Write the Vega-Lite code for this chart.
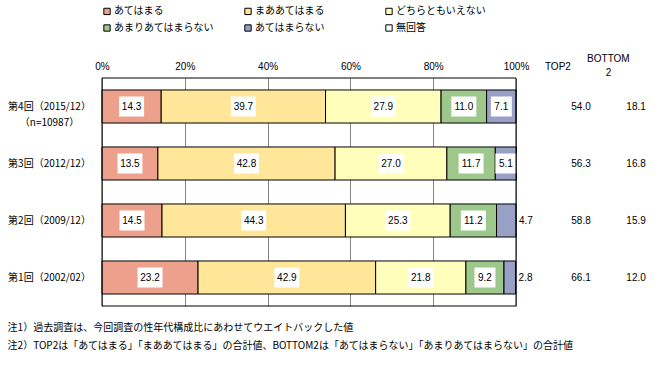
{
  "$schema": "https://vega.github.io/schema/vega-lite/v6.json",
  "width": 538.2,
  "height": 228,
  "autosize": "none",
  "padding": {"left": 102, "top": 78, "right": 15.8, "bottom": 59},
  "background": "white",
  "config": {"view": {"stroke": null}, "font": "Noto Sans CJK JP"},
  "title": {
    "text": ["注1）過去調査は、今回調査の性年代構成比にあわせてウエイトバックした値", "注2）TOP2は「あてはまる」「まああてはまる」の合計値、BOTTOM2は「あてはまらない」「あまりあてはまらない」の合計値"],
    "orient": "bottom",
    "anchor": "start",
    "frame": "bounds",
    "offset": 16,
    "fontSize": 10,
    "fontWeight": "normal",
    "font": "Noto Sans CJK JP",
    "lineHeight": 18,
    "color": "black"
  },
  "datasets": {
    "main": [
      {"round": "第4回（2015/12）", "cat": "あてはまる", "value": 14.3},
      {"round": "第4回（2015/12）", "cat": "まああてはまる", "value": 39.7},
      {"round": "第4回（2015/12）", "cat": "どちらともいえない", "value": 27.9},
      {"round": "第4回（2015/12）", "cat": "あまりあてはまらない", "value": 11.0},
      {"round": "第4回（2015/12）", "cat": "あてはまらない", "value": 7.1},
      {"round": "第3回（2012/12）", "cat": "あてはまる", "value": 13.5},
      {"round": "第3回（2012/12）", "cat": "まああてはまる", "value": 42.8},
      {"round": "第3回（2012/12）", "cat": "どちらともいえない", "value": 27.0},
      {"round": "第3回（2012/12）", "cat": "あまりあてはまらない", "value": 11.7},
      {"round": "第3回（2012/12）", "cat": "あてはまらない", "value": 5.1},
      {"round": "第2回（2009/12）", "cat": "あてはまる", "value": 14.5},
      {"round": "第2回（2009/12）", "cat": "まああてはまる", "value": 44.3},
      {"round": "第2回（2009/12）", "cat": "どちらともいえない", "value": 25.3},
      {"round": "第2回（2009/12）", "cat": "あまりあてはまらない", "value": 11.2},
      {"round": "第2回（2009/12）", "cat": "あてはまらない", "value": 4.7},
      {"round": "第1回（2002/02）", "cat": "あてはまる", "value": 23.2},
      {"round": "第1回（2002/02）", "cat": "まああてはまる", "value": 42.9},
      {"round": "第1回（2002/02）", "cat": "どちらともいえない", "value": 21.8},
      {"round": "第1回（2002/02）", "cat": "あまりあてはまらない", "value": 9.2},
      {"round": "第1回（2002/02）", "cat": "あてはまらない", "value": 2.8}
    ],
    "summary": [
      {"round": "第4回（2015/12）", "top2": 54.0, "bottom2": 18.1},
      {"round": "第3回（2012/12）", "top2": 56.3, "bottom2": 16.8},
      {"round": "第2回（2009/12）", "top2": 58.8, "bottom2": 15.9},
      {"round": "第1回（2002/02）", "top2": 66.1, "bottom2": 12.0}
    ]
  },
  "data": {"name": "main"},
  "transform": [
    {"calculate": "indexof(['あてはまる','まああてはまる','どちらともいえない','あまりあてはまらない','あてはまらない','無回答'], datum.cat)", "as": "k"},
    {"stack": "value", "groupby": ["round"], "sort": [{"field": "k"}], "as": ["x0", "x1"]},
    {"calculate": "(datum.x0 + datum.x1) / 2", "as": "mid"}
  ],
  "layer": [
    {
      "mark": {"type": "bar", "stroke": "black", "strokeWidth": 1},
      "encoding": {
        "y": {
          "field": "round", "type": "nominal",
          "sort": ["第4回（2015/12）", "第3回（2012/12）", "第2回（2009/12）", "第1回（2002/02）"],
          "scale": {"paddingInner": 0.42, "paddingOuter": 0.21},
          "axis": {
            "title": null, "domain": false, "ticks": false, "tickSize": 0,
            "labelAlign": "center", "labelPadding": 53, "labelFontSize": 10,
            "labelLineHeight": 16, "labelColor": "black", "labelFont": "Noto Sans CJK JP",
            "labelExpr": "datum.label == '第4回（2015/12）' ? ['第4回（2015/12）', '（n=10987）'] : datum.label"
          }
        },
        "x": {
          "field": "x0", "type": "quantitative",
          "scale": {"domain": [0, 130], "nice": false},
          "axis": {
            "orient": "top", "title": null, "domain": false, "ticks": false, "tickSize": 0,
            "values": [0, 20, 40, 60, 80, 100, 110, 122.2],
            "labelExpr": "datum.value == 110 ? 'TOP2' : datum.value > 120 ? ['BOTTOM', '2'] : datum.value + '%'",
            "labelBaseline": "middle",
            "labelPadding": {"condition": {"test": "datum.value > 120", "value": 20}, "value": 12},
            "labelFontSize": 10,
            "labelFont": "Liberation Sans", "labelColor": "black", "labelFlush": false,
            "labelOverlap": false, "labelBound": false, "labelLineHeight": 14,
            "grid": true,
            "gridColor": {"condition": {"test": "datum.value > 100", "value": "transparent"}, "value": "#868686"},
            "gridWidth": 1
          }
        },
        "x2": {"field": "x1"},
        "color": {
          "field": "cat", "type": "nominal",
          "scale": {
            "domain": ["あてはまる", "まああてはまる", "どちらともいえない", "あまりあてはまらない", "あてはまらない", "無回答"],
            "range": ["#EDA08B", "#FFE699", "#FFFFBB", "#9DC78B", "#99A0C6", "#FFFFFF"]
          },
          "legend": {
            "title": null, "orient": "none", "legendX": 0, "legendY": -72,
            "direction": "horizontal", "columns": 3, "gridAlign": "all",
            "columnPadding": 28, "rowPadding": 5, "symbolType": "square",
            "symbolSize": 40, "symbolStrokeColor": "black", "symbolStrokeWidth": 1,
            "symbolOpacity": 1, "labelFontSize": 10, "labelFont": "Noto Sans CJK JP",
            "labelOffset": 2, "padding": 0, "labelColor": "black"
          }
        }
      }
    },
    {
      "transform": [{"filter": "datum.value >= 5"}],
      "mark": {"type": "point", "filled": true, "fill": "white", "opacity": 1, "strokeWidth": 0, "size": 400},
      "encoding": {
        "y": {"field": "round", "type": "nominal", "sort": ["第4回（2015/12）", "第3回（2012/12）", "第2回（2009/12）", "第1回（2002/02）"]},
        "x": {"field": "mid", "type": "quantitative"},
        "shape": {"condition": {"test": "datum.value >= 10", "value": "M-1.25,-1H1.25V1H-1.25Z"}, "value": "M-1.05,-1H1.05V1H-1.05Z"}
      }
    },
    {
      "transform": [{"filter": "datum.value >= 5"}],
      "mark": {"type": "text", "fontSize": 10, "font": "Liberation Sans", "color": "black"},
      "encoding": {
        "y": {"field": "round", "type": "nominal", "sort": ["第4回（2015/12）", "第3回（2012/12）", "第2回（2009/12）", "第1回（2002/02）"]},
        "x": {"field": "mid", "type": "quantitative"},
        "text": {"field": "value", "format": ".1f"}
      }
    },
    {
      "transform": [{"filter": "datum.value < 5"}],
      "mark": {"type": "text", "fontSize": 10, "font": "Liberation Sans", "color": "black", "align": "left", "dx": 3},
      "encoding": {
        "y": {"field": "round", "type": "nominal", "sort": ["第4回（2015/12）", "第3回（2012/12）", "第2回（2009/12）", "第1回（2002/02）"]},
        "x": {"field": "x1", "type": "quantitative"},
        "text": {"field": "value", "format": ".1f"}
      }
    },
    {
      "data": {"values": [{}]},
      "mark": {"type": "rect", "fill": "transparent", "stroke": "black", "strokeWidth": 1},
      "encoding": {
        "x": {"datum": 0, "type": "quantitative"},
        "x2": {"datum": 100}
      }
    },
    {
      "data": {"name": "summary"},
      "mark": {"type": "text", "fontSize": 10, "font": "Liberation Sans", "color": "black"},
      "encoding": {
        "y": {"field": "round", "type": "nominal", "sort": ["第4回（2015/12）", "第3回（2012/12）", "第2回（2009/12）", "第1回（2002/02）"]},
        "x": {"datum": 115.7, "type": "quantitative"},
        "text": {"field": "top2", "format": ".1f"}
      }
    },
    {
      "data": {"name": "summary"},
      "mark": {"type": "text", "fontSize": 10, "font": "Liberation Sans", "color": "black"},
      "encoding": {
        "y": {"field": "round", "type": "nominal", "sort": ["第4回（2015/12）", "第3回（2012/12）", "第2回（2009/12）", "第1回（2002/02）"]},
        "x": {"datum": 129, "type": "quantitative"},
        "text": {"field": "bottom2", "format": ".1f"}
      }
    }
  ]
}
